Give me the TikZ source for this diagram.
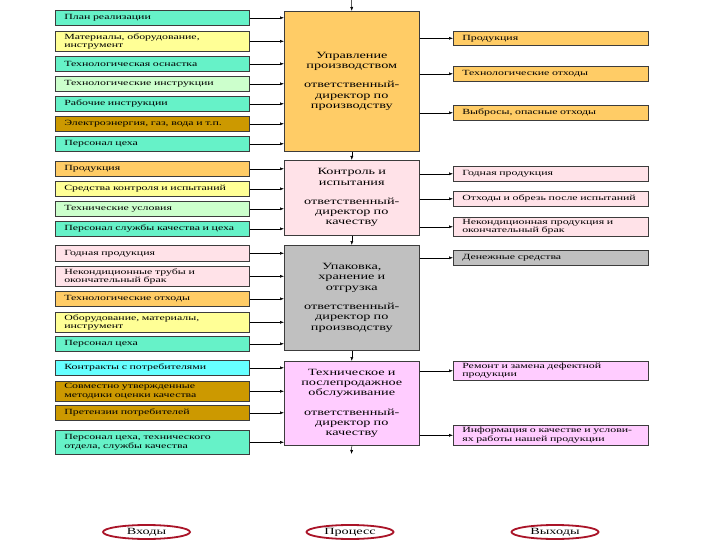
\documentclass[tikz,border=0pt]{standalone}
\usepackage{fontspec}
\setmainfont{Liberation Serif}[FakeStretch=1.5]
\usetikzlibrary{arrows.meta,shapes.geometric}
\definecolor{aqua}{RGB}{102,242,200}
\definecolor{lyellow}{RGB}{255,255,150}
\definecolor{lgreen}{RGB}{204,255,204}
\definecolor{gold}{RGB}{204,153,0}
\definecolor{orng}{RGB}{255,204,102}
\definecolor{lpink}{RGB}{255,226,232}
\definecolor{lcyan}{RGB}{102,255,255}
\definecolor{gry}{RGB}{192,192,192}
\definecolor{violet}{RGB}{255,204,255}
\definecolor{boxline}{RGB}{60,60,60}
\definecolor{ellred}{RGB}{170,20,40}
\tikzset{
  inbox/.style={draw=boxline, line width=0.6pt, anchor=north west, inner xsep=9pt,
    inner ysep=0pt, text width=176pt, minimum width=194pt, align=left,
    font=\fontsize{7.9}{8.4}\selectfont},
  outbox/.style={inbox, text width=177pt, minimum width=195pt},
  procbox/.style={draw=boxline, line width=0.6pt, anchor=north west, inner xsep=5pt,
    text width=125pt, minimum width=135pt, align=center,
    font=\fontsize{9.5}{10.3}\selectfont},
  oval/.style={ellipse, draw=ellred, line width=1.8pt, fill=white, inner sep=0pt,
    minimum width=87pt, minimum height=14pt, font=\fontsize{9.5}{10}\selectfont},
  arr/.style={-{Latex[length=4pt,width=3pt]}, line width=0.5pt}
}
\begin{document}
\begin{tikzpicture}[x=1pt,y=-1pt]
	% page
	\fill[white] (0,0) rectangle (720,540);
	\useasboundingbox (0,0) rectangle (720,540);
	% the process boxes
	\node[procbox, fill=orng, minimum height=140pt] (A) at (284,11)
		{Управление\\производством\\[9pt]ответственный-\\директор по\\производству};
	\node[procbox, fill=lpink, minimum height=75pt] (B) at (284,160)
		{Контроль и\\испытания\\[9pt]ответственный-\\директор по\\качеству};
	\node[procbox, fill=gry, minimum height=105pt] (C) at (284,245)
		{Упаковка,\\хранение и\\отгрузка\\[9pt]ответственный-\\директор по\\производству};
	\node[procbox, fill=violet, minimum height=84pt] (D) at (284,361)
		{Техническое и\\послепродажное\\обслуживание\\[9pt]ответственный-\\директор по\\качеству};
	% inputs of A
	\node[inbox, fill=aqua, minimum height=15pt] (L1) at (55,10) {План реализации};
	\node[inbox, fill=lyellow, minimum height=20pt] (L2) at (55,31) {Материалы, оборудование,\\инструмент};
	\node[inbox, fill=aqua, minimum height=15pt] (L3) at (55,56) {Технологическая оснастка};
	\node[inbox, fill=lgreen, minimum height=15pt] (L4) at (55,76) {Технологические инструкции};
	\node[inbox, fill=aqua, minimum height=15pt] (L5) at (55,96) {Рабочие инструкции};
	\node[inbox, fill=gold, minimum height=15pt] (L6) at (55,116) {Электроэнергия, газ, вода и т.п.};
	\node[inbox, fill=aqua, minimum height=15pt] (L7) at (55,136) {Персонал цеха};
	% inputs of B
	\node[inbox, fill=orng, minimum height=15pt] (L8) at (55,161) {Продукция};
	\node[inbox, fill=lyellow, minimum height=15pt] (L9) at (55,181) {Средства контроля и испытаний};
	\node[inbox, fill=lgreen, minimum height=15pt] (L10) at (55,201) {Технические условия};
	\node[inbox, fill=aqua, minimum height=15pt] (L11) at (55,221) {Персонал службы качества и цеха};
	% inputs of C
	\node[inbox, fill=lpink, minimum height=16pt] (L12) at (55,245) {Годная продукция};
	\node[inbox, fill=lpink, minimum height=20pt] (L13) at (55,266) {Некондиционные трубы и\\окончательный брак};
	\node[inbox, fill=orng, minimum height=15pt] (L14) at (55,291) {Технологические отходы};
	\node[inbox, fill=lyellow, minimum height=20pt] (L15) at (55,312) {Оборудование, материалы,\\инструмент};
	\node[inbox, fill=aqua, minimum height=15pt] (L16) at (55,336) {Персонал цеха};
	% inputs of D
	\node[inbox, fill=lcyan, minimum height=15pt] (L17) at (55,360) {Контракты с потребителями};
	\node[inbox, fill=gold, minimum height=20pt] (L18) at (55,381) {Совместно утвержденные\\методики оценки качества};
	\node[inbox, fill=gold, minimum height=15pt] (L19) at (55,405) {Претензии потребителей};
	\node[inbox, fill=aqua, minimum height=24pt] (L20) at (55,430) {Персонал цеха, технического\\отдела, службы качества};
	% outputs
	\node[outbox, fill=orng, minimum height=14pt] (R1) at (453,31) {Продукция};
	\node[outbox, fill=orng, minimum height=15pt] (R2) at (453,66) {Технологические отходы};
	\node[outbox, fill=orng, minimum height=15pt] (R3) at (453,105) {Выбросы, опасные отходы};
	\node[outbox, fill=lpink, minimum height=15pt] (R4) at (453,166) {Годная продукция};
	\node[outbox, fill=lpink, minimum height=15pt] (R5) at (453,191) {Отходы и обрезь после испытаний};
	\node[outbox, fill=lpink, minimum height=19pt] (R6) at (453,217) {Некондиционная продукция и\\окончательный брак};
	\node[outbox, fill=gry, minimum height=15pt] (R7) at (453,250) {Денежные средства};
	\node[outbox, fill=violet, minimum height=19pt] (R8) at (453,361) {Ремонт и замена дефектной\\продукции};
	\node[outbox, fill=violet, minimum height=20pt] (R9) at (453,425) {Информация о качестве и услови-\\ях работы нашей продукции};
	% arrows in
	\foreach \i in {1,...,7} \draw[arr] (L\i.east) -- (L\i.east -| A.west);
	\foreach \i in {8,...,11} \draw[arr] (L\i.east) -- (L\i.east -| B.west);
	\foreach \i in {12,...,16} \draw[arr] (L\i.east) -- (L\i.east -| C.west);
	\foreach \i in {17,...,20} \draw[arr] (L\i.east) -- (L\i.east -| D.west);
	% arrows out
	\foreach \i in {1,2,3} \draw[arr] (R\i.west -| A.east) -- (R\i.west);
	\foreach \i in {4,5,6} \draw[arr] (R\i.west -| B.east) -- (R\i.west);
	\draw[arr] (R7.west -| C.east) -- (R7.west);
	\foreach \i in {8,9} \draw[arr] (R\i.west -| D.east) -- (R\i.west);
	% the flow down the middle
	\coordinate (top) at (351.5,0);
	\coordinate (bot) at (351.5,454);
	\draw[arr] (top) -- (A.north);
	\draw[arr] (A.south) -- (B.north);
	\draw[arr] (B.south) -- (C.north);
	\draw[arr] (C.south) -- (D.north);
	\draw[arr] (D.south) -- (bot);
	% legend
	\node[oval] (inp) at (146.5,532) {Входы};
	\node[oval] (proc) at (350,532) {Процесс};
	\node[oval] (outp) at (555,532) {Выходы};
\end{tikzpicture}
\end{document}
